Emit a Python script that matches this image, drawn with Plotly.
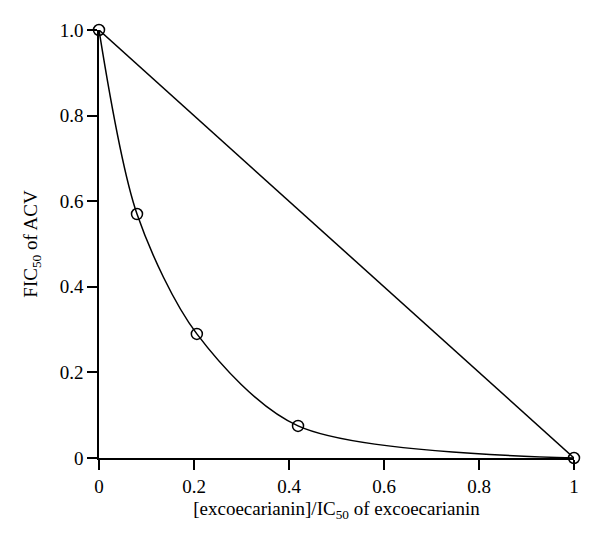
import plotly.graph_objects as go

# data
combo_x = [0, 0.08, 0.206, 0.419, 1]
combo_y = [1, 0.57, 0.29, 0.075, 0]
additive_x = [0, 1]
additive_y = [1, 0]
x_ticks = [0, 0.2, 0.4, 0.6, 0.8, 1]
x_labels = ["0", "0.2", "0.4", "0.6", "0.8", "1"]
y_ticks = [0, 0.2, 0.4, 0.6, 0.8, 1]
y_labels = ["0", "0.2", "0.4", "0.6", "0.8", "1.0"]

FONT = "Liberation Serif, DejaVu Serif, serif"

fig = go.Figure()

# additivity line
fig.add_trace(go.Scatter(x=additive_x, y=additive_y, mode="lines",
                         line=dict(color="black", width=1.5),
                         showlegend=False, cliponaxis=False))

# isobologram curve
fig.add_trace(go.Scatter(x=combo_x, y=combo_y, mode="lines",
                         line=dict(color="black", width=1.5, shape="spline", smoothing=0.85),
                         showlegend=False, cliponaxis=False))

# open circle markers
fig.add_trace(go.Scatter(x=combo_x, y=combo_y, mode="markers",
                         marker=dict(symbol="circle-open", size=11, color="black",
                                     line=dict(width=1.5, color="black")),
                         showlegend=False, cliponaxis=False))

fig.update_xaxes(range=[0, 1], tickvals=x_ticks, ticktext=x_labels,
                 showline=True, linecolor="black", linewidth=1.5,
                 ticks="outside", ticklen=10, tickwidth=1.5, tickcolor="black",
                 showgrid=False, zeroline=False,
                 tickfont=dict(family=FONT, size=19, color="black"),
                 title=dict(text="[excoecarianin]/IC<sub>50</sub> of excoecarianin",
                            font=dict(family=FONT, size=19, color="black"), standoff=6))
fig.update_yaxes(range=[0, 1], tickvals=y_ticks, ticktext=y_labels,
                 showline=True, linecolor="black", linewidth=1.5,
                 ticks="outside", ticklen=10, tickwidth=1.5, tickcolor="black",
                 showgrid=False, zeroline=False,
                 tickfont=dict(family=FONT, size=19, color="black"),
                 title=dict(text="FIC<sub>50</sub> of ACV",
                            font=dict(family=FONT, size=19, color="black"), standoff=17))

fig.update_layout(width=600, height=543, plot_bgcolor="white", paper_bgcolor="white",
                  margin=dict(l=91, r=34, t=22, b=93))

fig.write_html("out.html")
